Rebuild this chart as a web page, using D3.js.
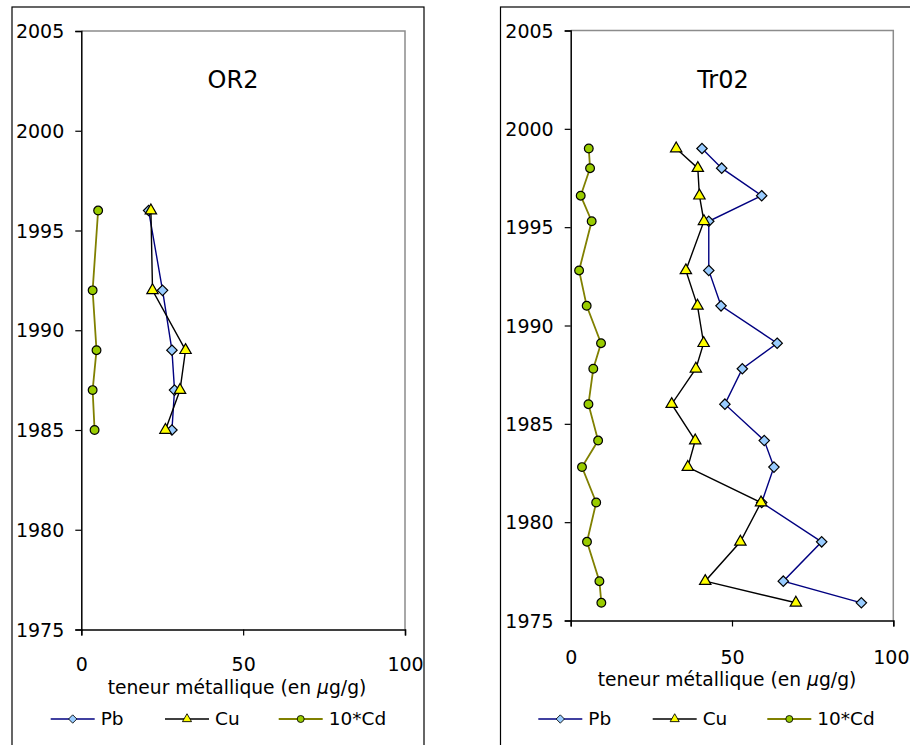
<!DOCTYPE html>
<html>
<head>
<meta charset="utf-8">
<script src="https://cdn.jsdelivr.net/npm/d3@7"></script>
<style>
  html, body { margin: 0; padding: 0; background: #fff; }
  svg { display: block; }
  text { font-family: "DejaVu Sans", "Noto Sans", sans-serif; fill: #000; }
</style>
</head>
<body>
<svg id="chart" width="910" height="745"></svg>
<script>
// ---- Data ----
const seriesNames = ["Pb", "Cu", "10*Cd"];
const yearTicks = [1975, 1980, 1985, 1990, 1995, 2000, 2005];
const valueTicks = [0, 50, 100];
const xAxisTitle = "teneur métallique (en ";

const years_OR2 = [1996, 1992, 1989, 1987, 1985];
const pb_OR2 = [20.8, 25.1, 28.0, 28.8, 28.0];
const cu_OR2 = [21.5, 22.0, 32.2, 30.5, 26.0];
const cd10_OR2 = [5.2, 3.5, 4.7, 3.5, 4.1];

const years_Tr02 = [1999, 1998, 1996.6, 1995.3, 1992.8, 1991, 1989.1, 1987.8, 1986, 1984.15, 1982.8, 1981, 1979, 1977, 1975.9];
const pb_Tr02 = [40.7, 46.8, 59.2, 42.8, 42.8, 46.6, 64.0, 53.2, 47.8, 60.0, 63.0, 59.2, 77.8, 65.9, 90.1];
const cu_Tr02 = [32.7, 39.4, 39.9, 41.3, 35.7, 39.3, 41.2, 38.8, 31.3, 38.6, 36.3, 59.0, 52.6, 41.7, 69.8];
const cd10_Tr02 = [5.6, 6.0, 3.1, 6.5, 2.6, 4.95, 9.4, 7.0, 5.5, 8.5, 3.5, 7.9, 5.05, 8.9, 9.5];

// ---- Styles ----
const styles = [
  { line: "#000080", fill: "#99ccff", sym: "diamond" },
  { line: "#000000", fill: "#ffff00", sym: "triangle" },
  { line: "#808000", fill: "#99cc00", sym: "circle" }
];

const panels = [
  { title: "OR2", years: years_OR2, series: [pb_OR2, cu_OR2, cd10_OR2],
    frame: { x: 12, y: 7, w: 412, h: 760 },
    plot: { x0: 81.3, x1: 405, y0: 31, y1: 629.5 },
    titleX: 233, labelY: 664, axisTitleY: 687, legendY: 719,
    legendX: [50.7, 165, 278.7] },
  { title: "Tr02", years: years_Tr02, series: [pb_Tr02, cu_Tr02, cd10_Tr02],
    frame: { x: 500.5, y: 7, w: 430, h: 760 },
    plot: { x0: 570.7, x1: 893.3, y0: 30.5, y1: 620.5 },
    titleX: 723, labelY: 657, axisTitleY: 679, legendY: 719,
    legendX: [538.3, 652.7, 767.3] }
];

const svg = d3.select("#chart");
const W = 910;

function symPath(kind) {
  if (kind === "diamond") return "M0,-5.2L5.2,0L0,5.2L-5.2,0Z";
  if (kind === "triangle") return d3.symbol(d3.symbolTriangle, 56)();
  return d3.symbol(d3.symbolCircle, 60)();
}

panels.forEach(p => {
  const g = svg.append("g");
  // outer frame
  g.append("rect")
    .attr("x", p.frame.x).attr("y", p.frame.y)
    .attr("width", p.frame.w).attr("height", p.frame.h)
    .attr("fill", "none").attr("stroke", "#000").attr("stroke-width", 1.2);

  const x = d3.scaleLinear().domain([0, 100]).range([p.plot.x0, p.plot.x1]);
  const y = d3.scaleLinear().domain([1975, 2005]).range([p.plot.y1, p.plot.y0]);

  // plot area border (gray top/right)
  g.append("path")
    .attr("d", `M${p.plot.x0},${p.plot.y0}H${p.plot.x1}V${p.plot.y1}`)
    .attr("fill", "none").attr("stroke", "#8c8c8c").attr("stroke-width", 1.5);

  // axes
  const yAxis = d3.axisLeft(y).tickValues(yearTicks).tickSize(6).tickPadding(11).tickFormat(d3.format("d"));
  const ya = g.append("g").attr("transform", `translate(${p.plot.x0},0)`).call(yAxis);
  const xAxis = d3.axisBottom(x).tickValues(valueTicks).tickSize(6).tickPadding(0);
  const xa = g.append("g").attr("transform", `translate(0,${p.plot.y1})`).call(xAxis);
  [ya, xa].forEach(a => {
    a.select(".domain").attr("stroke", "#000").attr("stroke-width", 1.5);
    a.selectAll(".tick line").attr("stroke", "#000").attr("stroke-width", 1.2);
    a.selectAll("text").style("font-family", '"DejaVu Sans", sans-serif').style("font-size", "19px").attr("fill", "#000");
  });
  ya.selectAll(".tick text").attr("dy", "0.35em");
  xa.selectAll(".tick text").attr("y", p.labelY - p.plot.y1).attr("dy", "0.35em");
  // keep labels inside the window
  xa.selectAll(".tick text").each(function(d) {
    const bb = this.getBBox();
    const tx = x(d);
    const right = tx + bb.width / 2;
    if (right > W - 1) d3.select(this).attr("x", (W - 1) - right);
  });

  // chart title
  g.append("text").attr("x", p.titleX).attr("y", 80).attr("dy", "0.35em")
    .attr("text-anchor", "middle").style("font-size", "24px").text(p.title);

  // axis title
  const at = g.append("text").attr("x", p.titleX + 4).attr("y", p.axisTitleY).attr("dy", "0.35em")
    .attr("text-anchor", "middle").style("font-size", "18.7px");
  at.append("tspan").text(xAxisTitle);
  at.append("tspan").style("font-style", "italic").text("µ");
  at.append("tspan").text("g/g)");

  // series
  p.series.forEach((vals, i) => {
    const st = styles[i];
    const pts = vals.map((v, k) => [x(v), y(p.years[k])]);
    g.append("path").attr("d", d3.line()(pts))
      .attr("fill", "none").attr("stroke", st.line).attr("stroke-width", i === 2 ? 1.8 : 1.4);
    g.selectAll(null).data(pts).enter().append("path")
      .attr("d", symPath(st.sym))
      .attr("transform", d => `translate(${d[0]},${d[1]})`)
      .attr("fill", st.fill).attr("stroke", "#000").attr("stroke-width", 1.2);
  });

  // legend
  seriesNames.forEach((name, i) => {
    const st = styles[i];
    const lx = p.legendX[i];
    const ly = p.legendY;
    g.append("line").attr("x1", lx).attr("x2", lx + 44).attr("y1", ly).attr("y2", ly)
      .attr("stroke", st.line).attr("stroke-width", i === 2 ? 1.8 : 1.4);
    g.append("path").attr("d", symPath(st.sym))
      .attr("transform", `translate(${lx + 22},${ly}) scale(0.8)`)
      .attr("fill", st.fill).attr("stroke", "#000").attr("stroke-width", 1.1);
    g.append("text").attr("x", lx + 50).attr("y", ly).attr("dy", "0.35em")
      .style("font-size", "18.5px").text(name);
  });
});
</script>
</body>
</html>
